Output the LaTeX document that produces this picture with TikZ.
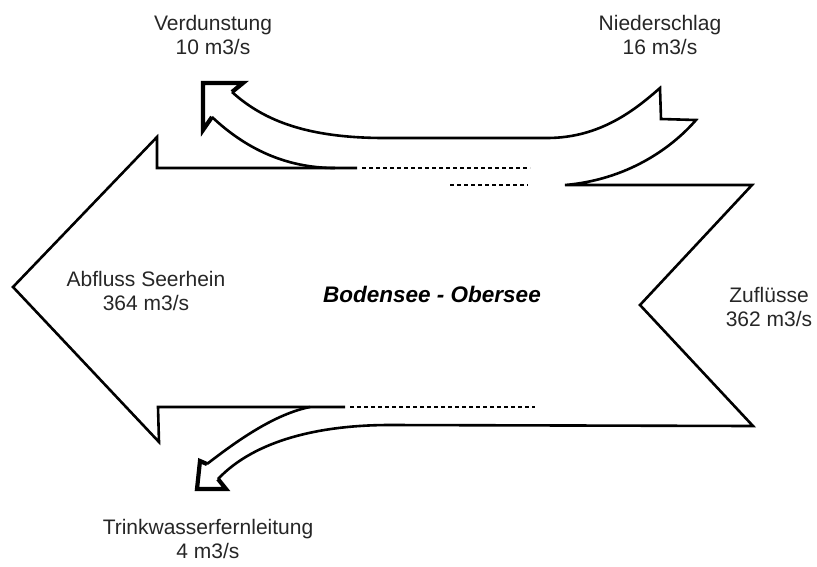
\documentclass[tikz,border=0pt]{standalone}
\usepackage{fontspec}
\setmainfont{Liberation Sans}
\begin{document}
\begin{tikzpicture}[x=1pt,y=-1pt,
    outline/.style={line width=2.6pt, line join=miter},
    headline/.style={line width=4.2pt, line join=miter, line cap=butt},
    hidden/.style={line width=1.7pt, dash pattern=on 4pt off 3pt},
    label/.style={align=center, inner sep=0pt, text=black!85, font=\fontsize{21}{23.5}\selectfont},
    title/.style={inner sep=0pt, font=\fontsize{22.5}{26}\selectfont\bfseries\itshape}]
  \useasboundingbox (0,0) rectangle (817,566);

  % key points of the outflow arrow (left part)
  \coordinate (tip) at (13,287);
  \coordinate (ub) at (157,137);
  \coordinate (uc) at (157,168);
  \coordinate (lb) at (159,442);
  \coordinate (lc) at (158,407);

  % left arrow with upper and lower edges
  \draw[outline] (357,168) -- (uc) -- (ub) -- (tip) -- (lb) -- (lc) -- (345,407);

  % evaporation band: inner edge leaving the upper edge
  \draw[outline] (212,117) .. controls (245,148) and (285,168) .. (335,168);

  % outer contour: drinking water band, inflow notch, precipitation band, evaporation band
  \draw[outline] (218,479) .. controls (255,440) and (320,425) .. (390,425)
     -- (753,426) -- (640,305) -- (752,185) -- (565,185)
     .. controls (625,180) and (670,150) .. (696,120)
     -- (661,119) -- (660,88)
     .. controls (635,110) and (600,138) .. (547,138)
     -- (385,138) .. controls (310,138) and (265,122) .. (232,92);

  % drinking water band: inner edge
  \draw[outline] (310,407) .. controls (275,414) and (238,440) .. (207,464);

  % arrow heads
  \draw[headline] (232,92) -- (243,83) -- (203,83) -- (203,130) -- (212,117);
  \draw[headline] (207,464) -- (200,461) -- (197,489) -- (226,489) -- (218,479);

  % hidden continuations of the band edges
  \draw[hidden] (362,168) -- (530,168);
  \draw[hidden] (450,185) -- (528,185);
  \draw[hidden] (350,407) -- (535,407);

  % labels
  \node[label] (verd) at (213,35) {Verdunstung\\10 m3/s};
  \node[label] (nied) at (660,35) {Niederschlag\\16 m3/s};
  \node[label] (abfl) at (146,291) {Abfluss Seerhein\\364 m3/s};
  \node[label] (zufl) at (769,307) {Zuflüsse\\362 m3/s};
  \node[label] (trink) at (208,539) {Trinkwasserfernleitung\\4 m3/s};
  \node[title] (see) at (432,294) {Bodensee - Obersee};
\end{tikzpicture}
\end{document}
